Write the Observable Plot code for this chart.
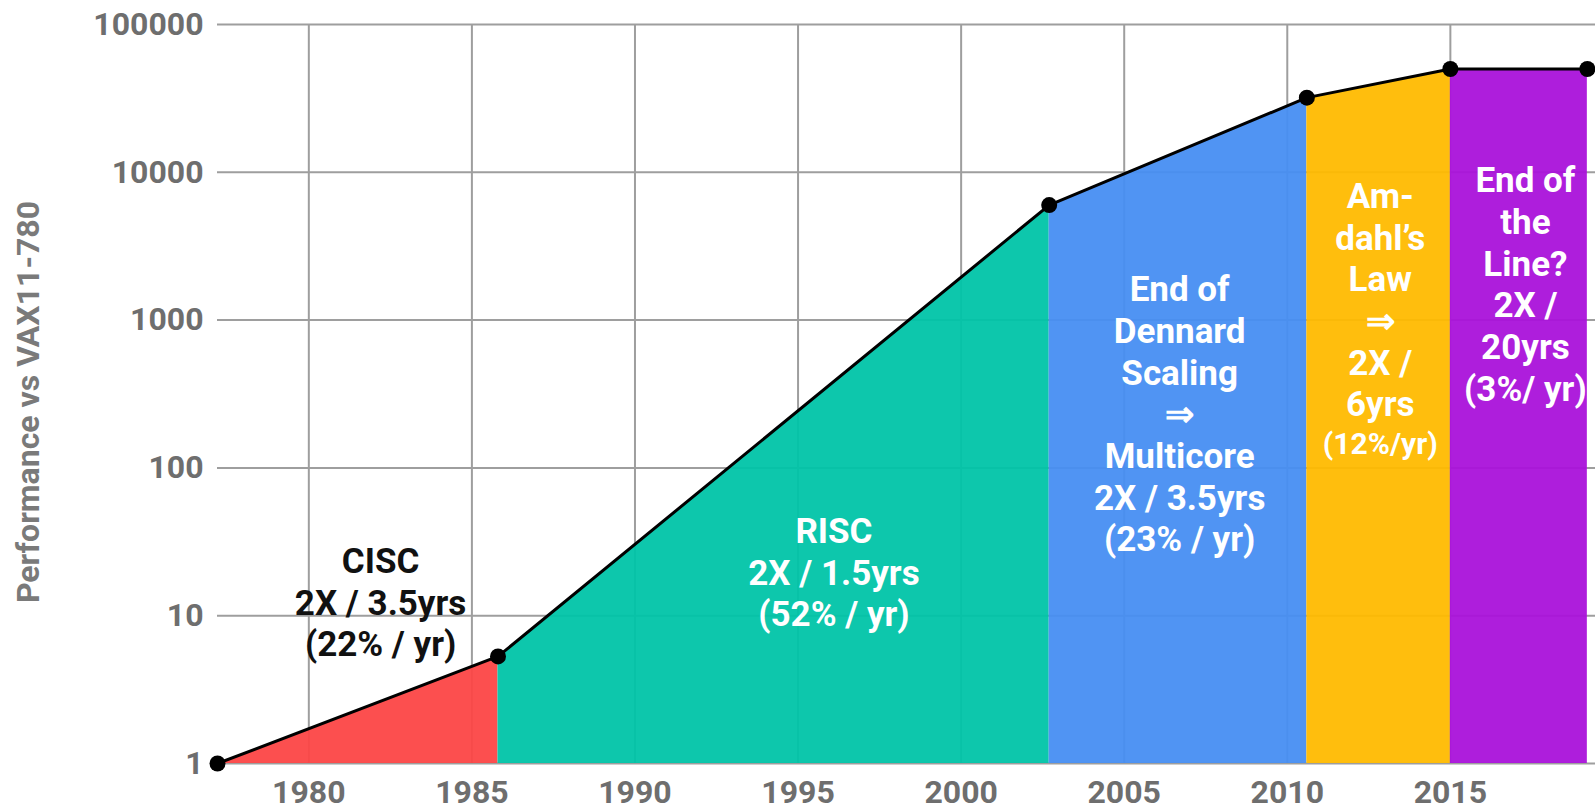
<!DOCTYPE html>
<html><head><meta charset="utf-8">
<script src="https://cdn.jsdelivr.net/npm/d3@7"></script>
<script src="https://cdn.jsdelivr.net/npm/@observablehq/plot@0.6"></script>
<style>
body{margin:0;background:#fff;}
#chart svg{display:block;}
</style>
</head><body><div id="chart"></div>
<script>
// Data
const years = [1977.2, 1985.8, 2002.7, 2010.6, 2015, 2019.2];
const perf = [1, 5.3, 6000, 32000, 50000, 50000];
const eras = ["CISC", "RISC", "Dennard", "Amdahl", "EndOfLine"];
const eraColors = ["#fc4646", "#00c4a8", "#478ef2", "#ffbb00", "#aa12da"];
const xTicks = [1980, 1985, 1990, 1995, 2000, 2005, 2010, 2015];
const yTicks = [1, 10, 100, 1000, 10000, 100000];
const yLabel = "Performance vs VAX11-780";

const labelTexts = [
  "CISC\n2X / 3.5yrs\n(22% / yr)",
  "RISC\n2X / 1.5yrs\n(52% / yr)",
  "End of\nDennard\nScaling\n⇒\nMulticore\n2X / 3.5yrs\n(23% / yr)",
  "Am-\ndahl’s\nLaw\n⇒\n2X /\n6yrs",
  "End of\nthe\nLine?\n2X /\n20yrs\n(3%/ yr)"
];
const labelYears = [1982.2, 1996.1, 2006.7, 2012.85, 2017.3];
const labelValues = [12.5, 20, 235, 1390, 1780];
const labelColors = ["#111", "#fff", "#fff", "#fff", "#fff"];
const smallLabel = ["(12%/yr)"];
const smallLabelYear = [2012.85];
const smallLabelValue = [145];

const points = years.map((y, i) => ({year: y, value: perf[i]}));
const segs = eras.flatMap((e, i) => [
  {year: years[i], value: perf[i], era: e},
  {year: years[i + 1], value: perf[i + 1], era: e}
]);
const labels = labelTexts.map((t, i) => ({text: t, year: labelYears[i], value: labelValues[i], color: labelColors[i]}));
const small = smallLabel.map((t, i) => ({text: t, year: smallLabelYear[i], value: smallLabelValue[i]}));

const chart = Plot.plot({
  width: 1595,
  height: 812,
  marginLeft: 217,
  marginRight: 0,
  marginTop: 24,
  marginBottom: 49,
  style: {fontFamily: "Roboto, 'Noto Sans', sans-serif", fontSize: "32px", fontWeight: "bold", color: "#6e6e6e", background: "#fff"},
  x: {domain: [1977.2, 2019.45], axis: null},
  y: {type: "log", domain: [1, 100000], axis: null},
  color: {domain: eras, range: eraColors},
  marks: [
    Plot.gridX(xTicks, {stroke: "#9e9e9e", strokeOpacity: 1, strokeWidth: 2}),
    Plot.gridY(yTicks, {stroke: "#9e9e9e", strokeOpacity: 1, strokeWidth: 2}),
    Plot.areaY(segs, {x: "year", y1: 1, y2: "value", fill: "era", z: "era", fillOpacity: 0.95}),
    Plot.line(points, {x: "year", y: "value", stroke: "#000", strokeWidth: 3}),
    Plot.dot(points, {x: "year", y: "value", r: 8, fill: "#000"}),
    Plot.text(labels, {x: "year", y: "value", text: "text", fill: "color", fontSize: 35, fontWeight: "bold", lineHeight: 1.19}),
    Plot.text(small, {x: "year", y: "value", text: "text", fill: "#fff", fontSize: 30, fontWeight: "bold"}),
    Plot.axisX({ticks: xTicks, tickSize: 0, tickPadding: 17, tickFormat: d => String(d), label: null, fontSize: 32}),
    Plot.axisY({ticks: yTicks, tickSize: 0, tickPadding: 14, tickFormat: d => String(d), label: null, fontSize: 32}),
    Plot.text([yLabel], {frameAnchor: "left", textAnchor: "middle", rotate: -90, dx: -189, dy: 8, fontSize: 32, fontWeight: "bold", fill: "#7a7a7a"})
  ]
});
document.getElementById("chart").appendChild(chart);
</script>
</body></html>
